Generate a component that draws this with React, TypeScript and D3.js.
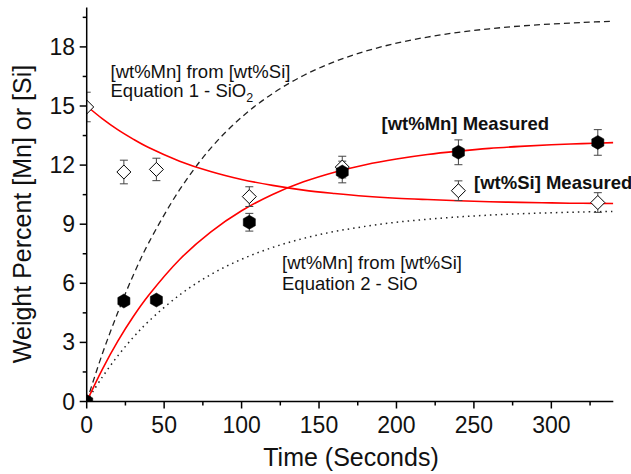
import React from "react";
import * as d3 from "d3";

// ---- Data ----
const mnTimes = [0, 24, 45, 105, 165, 240, 330];
const mnMeasured = [0, 5.1, 5.15, 9.1, 11.65, 12.65, 13.15];
const mnErr = [0, 0.2, 0.2, 0.45, 0.55, 0.63, 0.65];

const siTimes = [0, 24, 45, 105, 165, 240, 330];
const siMeasured = [14.95, 11.65, 11.78, 10.4, 11.9, 10.7, 10.1];
const siErr = [0.75, 0.6, 0.57, 0.5, 0.55, 0.5, 0.5];

const curveTimes = [0, 10, 20, 30, 40, 60, 80, 100, 120, 140, 160, 180, 200, 220, 240, 260, 280, 300, 320, 340];
const siFit = [15, 14.36, 13.8, 13.32, 12.89, 12.2, 11.67, 11.27, 10.97, 10.73, 10.56, 10.42, 10.32, 10.25, 10.19, 10.14, 10.11, 10.08, 10.06, 10.05];
const mnFit = [0, 1.62, 3.05, 4.3, 5.39, 7.21, 8.6, 9.68, 10.51, 11.15, 11.64, 12.02, 12.31, 12.54, 12.71, 12.85, 12.95, 13.03, 13.09, 13.14];
const mnEq1 = [0, 2.4, 4.5, 6.4, 8.05, 10.75, 12.85, 14.43, 15.63, 16.55, 17.25, 17.78, 18.19, 18.5, 18.74, 18.92, 19.06, 19.16, 19.24, 19.3];
const mnEq2 = [0, 1.23, 2.31, 3.25, 4.07, 5.41, 6.44, 7.22, 7.82, 8.28, 8.63, 8.89, 9.1, 9.25, 9.37, 9.46, 9.53, 9.58, 9.62, 9.65];

const xTicks = [0, 50, 100, 150, 200, 250, 300];
const yTicks = [0, 3, 6, 9, 12, 15, 18];

const W = 631;
const H = 474;
const FONT = "'Liberation Sans', Arial, sans-serif";

export default function App() {
  const x = d3.scaleLinear().domain([0, 340]).range([86.7, 613.3]);
  const y = d3.scaleLinear().domain([0, 20]).range([401.5, 7.5]);

  const xMinor = d3.range(0, 341, 25).filter((v) => v % 50 !== 0);
  const yMinor = d3.range(0, 20.01, 1.5).filter((v) => Math.abs(v % 3) > 0.01);

  const line = (vals: number[]) =>
    d3
      .line<number>()
      .x((_, i) => x(curveTimes[i]))
      .y((v) => y(v))
      .curve(d3.curveCatmullRom.alpha(0.5))(vals) || "";

  const hexR = 7;
  const hexPath = d3
    .range(6)
    .map((i) => {
      const a = (Math.PI / 3) * i - Math.PI / 2;
      return `${i === 0 ? "M" : "L"}${(hexR * Math.cos(a)).toFixed(2)},${(hexR * Math.sin(a)).toFixed(2)}`;
    })
    .join("") + "Z";
  const dR = 7;
  const diamondPath = `M0,${-dR}L${dR},0L0,${dR}L${-dR},0Z`;

  const errBar = (t: number, v: number, e: number, key: string) => {
    const cx = x(t);
    const y1 = y(v + e);
    const y2 = y(v - e);
    return (
      <g key={key} stroke="#444" strokeWidth={1}>
        <line x1={cx} x2={cx} y1={y1} y2={y2} />
        <line x1={cx - 4} x2={cx + 4} y1={y1} y2={y1} />
        <line x1={cx - 4} x2={cx + 4} y1={y2} y2={y2} />
      </g>
    );
  };

  return (
    <svg width={W} height={H} style={{ position: "absolute", left: 0, top: 0, background: "#fff" }} fontFamily={FONT}>
      <defs>
        <clipPath id="plotClip">
          <rect x={86.7} y={7.5} width={613.3 - 86.7} height={401.5 - 7.5} />
        </clipPath>
      </defs>

      <g clipPath="url(#plotClip)">
        <path d={line(mnEq1)} fill="none" stroke="#222" strokeWidth={1.3} strokeDasharray="6,4" />
        <path d={line(mnEq2)} fill="none" stroke="#222" strokeWidth={1.5} strokeDasharray="1.5,4" />
        <path d={line(siFit)} fill="none" stroke="#ff0000" strokeWidth={1.6} />
        <path d={line(mnFit)} fill="none" stroke="#ff0000" strokeWidth={1.6} />

        {siTimes.map((t, i) => errBar(t, siMeasured[i], siErr[i], "se" + i))}
        {mnTimes.map((t, i) => errBar(t, mnMeasured[i], mnErr[i], "me" + i))}

        {siTimes.map((t, i) => (
          <path key={"s" + i} d={diamondPath} transform={`translate(${x(t)},${y(siMeasured[i])})`} fill="#fff" stroke="#000" strokeWidth={1} />
        ))}
        {mnTimes.map((t, i) => (
          <path key={"m" + i} d={hexPath} transform={`translate(${x(t)},${y(mnMeasured[i])})`} fill="#000" stroke="#000" strokeWidth={0.5} />
        ))}
      </g>

      {/* axes */}
      <g stroke="#000" strokeWidth={1.5}>
        <line x1={x(0)} x2={x(340)} y1={y(0)} y2={y(0)} />
        <line x1={x(0)} x2={x(0)} y1={y(0)} y2={y(20)} />
        {xTicks.map((t) => (
          <line key={"xt" + t} x1={x(t)} x2={x(t)} y1={y(0)} y2={y(0) + 7} />
        ))}
        {xMinor.map((t) => (
          <line key={"xm" + t} x1={x(t)} x2={x(t)} y1={y(0)} y2={y(0) + 4} />
        ))}
        {yTicks.map((v) => (
          <line key={"yt" + v} x1={x(0) - 7} x2={x(0)} y1={y(v)} y2={y(v)} />
        ))}
        {yMinor.map((v) => (
          <line key={"ym" + v} x1={x(0) - 4} x2={x(0)} y1={y(v)} y2={y(v)} />
        ))}
      </g>

      <g fontSize={23} fill="#111">
        {xTicks.map((t) => (
          <text key={"xl" + t} x={x(t)} y={433} textAnchor="middle">
            {t}
          </text>
        ))}
        {yTicks.map((v) => (
          <text key={"yl" + v} x={75} y={y(v) + 8} textAnchor="end">
            {v}
          </text>
        ))}
      </g>

      <text x={351} y={466} textAnchor="middle" fontSize={25} fill="#111">
        Time (Seconds)
      </text>
      <text transform={`translate(31,${214}) rotate(-90)`} textAnchor="middle" fontSize={25} fill="#111">
        Weight Percent [Mn] or [Si]
      </text>

      {/* annotations */}
      <g fontSize={18.5} fill="#111">
        <text x={110.5} y={78}>[wt%Mn] from [wt%Si]</text>
        <text x={110.5} y={97}>
          Equation 1 - SiO<tspan fontSize={12.5} dy={5}>2</tspan>
        </text>
        <text x={282} y={269}>[wt%Mn] from [wt%Si]</text>
        <text x={282} y={290}>Equation 2 - SiO</text>
      </g>
      <g fontSize={18.5} fontWeight="bold" fill="#111">
        <text x={381.5} y={130}>[wt%Mn] Measured</text>
        <text x={474} y={189}>[wt%Si] Measured</text>
      </g>
    </svg>
  );
}
